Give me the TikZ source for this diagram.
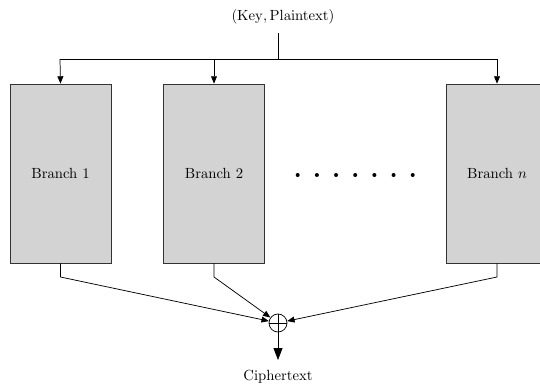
\documentclass[tikz,border=0pt]{standalone}
\usetikzlibrary{arrows.meta}
\begin{document}
\begin{tikzpicture}[x=0.68pt,y=-0.68pt,
  branchbox/.style={draw=black!80,fill={rgb,255:red,211;green,211;blue,211},minimum width=101*0.68pt,minimum height=179*0.68pt,inner sep=0pt,line width=0.5pt},
  conn/.style={line width=0.5pt},
  tip/.style={conn,-{Triangle[length=5pt,width=4pt]}},
  bigtip/.style={conn,-{Triangle[length=8pt,width=6pt]}}]
\clip (0,0) rectangle (540,385);
\useasboundingbox (0,0) rectangle (540,385);
\node (in) at (283,17) {$(\mathrm{Key},\mathrm{Plaintext})$};
\coordinate (top) at (278,33);
\coordinate (split) at (278,59);
\coordinate (hl) at (60,59);
\coordinate (hm) at (214,59);
\coordinate (hr) at (497,59);
\node[branchbox] (b1) at (60.5,173.5) {Branch 1};
\node[branchbox] (b2) at (214,173.5) {Branch 2};
\node[branchbox] (bn) at (497,173.5) {Branch $n$};
\foreach \i in {0,...,6} \fill (297.7+\i*19.17,175) circle (2);
\draw[conn] (top) -- (split);
\draw[conn] (hl) -- (hr);
\draw[tip] (hl) -- (b1.north);
\draw[tip] (hm) -- (b2.north);
\draw[tip] (hr) -- (bn.north);
\node[draw,circle,minimum size=18*0.68pt,inner sep=0pt,line width=0.5pt] (x) at (278,323) {};
\draw[conn] (x.north) -- (x.south) (x.west) -- (x.east);
\coordinate (d1) at (60.5,277);
\coordinate (d2) at (214,277);
\coordinate (dn) at (497,277);
\draw[tip] (b1.south) -- (d1) -- (x);
\draw[tip] (b2.south) -- (d2) -- (x);
\draw[tip] (bn.south) -- (dn) -- (x);
\coordinate (out) at (278,360);
\draw[bigtip] (x.south) -- (out);
\node (ct) at (278,377) {Ciphertext};
\end{tikzpicture}
\end{document}
